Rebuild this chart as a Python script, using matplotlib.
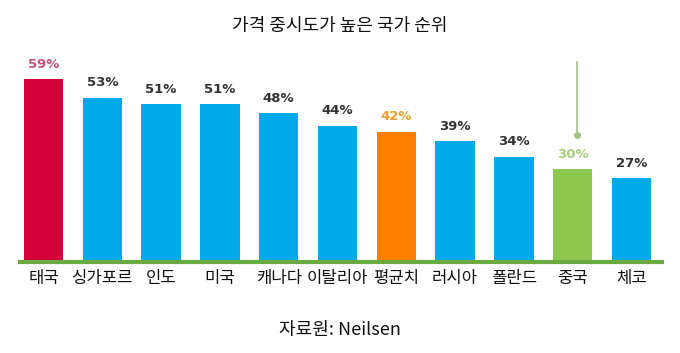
import matplotlib.pyplot as plt

plt.rcParams['font.family'] = ['Noto Sans CJK KR', 'DejaVu Sans']

# 데이터
countries = ["태국", "싱가포르", "인도", "미국", "캐나다", "이탈리아", "평균치", "러시아", "폴란드", "중국", "체코"]
values = [59, 53, 51, 51, 48, 44, 42, 39, 34, 30, 27]
bar_colors = ["#d6003a", "#00a9e8", "#00a9e8", "#00a9e8", "#00a9e8", "#00a9e8",
              "#ff8000", "#00a9e8", "#00a9e8", "#8dc850", "#00a9e8"]
label_colors = ["#c8507a", "#333333", "#333333", "#333333", "#333333", "#333333",
                "#f0a030", "#333333", "#333333", "#a8d080", "#333333"]

# 중국 위 강조선 (데이터 단위)
china_idx = 9
pin_top, pin_bottom = 64.5, 41

fig = plt.figure(figsize=(6.8, 3.53), dpi=100)
ax = fig.add_axes([20 / 680, 1 - 262 / 353, 642 / 680, 222 / 353])

x = list(range(len(countries)))
ax.bar(x, values, width=0.67, color=bar_colors, zorder=2)

for i, v in enumerate(values):
    ax.annotate(f"{v}%", (i, v), xytext=(0, 6), textcoords="offset points",
                ha="center", va="bottom", fontsize=9.5, fontweight="bold",
                color=label_colors[i], family=["DejaVu Sans"])

ax.plot([china_idx + 0.07, china_idx + 0.07], [pin_bottom, pin_top], color="#a8c088", lw=1.2)
ax.plot([china_idx + 0.07], [pin_bottom], "o", color="#a8c088", ms=4)

ax.set_xlim(-0.40, 10.52)
ax.set_ylim(0, 71.6)
ax.set_xticks(x)
ax.set_xticklabels(countries, fontsize=12, color="#111111")
ax.tick_params(axis="x", length=0, pad=6)
ax.set_yticks([])
for s in ["top", "right", "left"]:
    ax.spines[s].set_visible(False)
ax.spines["bottom"].set_color("#6aaa40")
ax.spines["bottom"].set_linewidth(3)
ax.spines["bottom"].set_zorder(3)

fig.text(0.5, 1 - 26 / 353, "가격 중시도가 높은 국가 순위", ha="center", va="center", fontsize=13, color="#111111")
fig.text(0.5, 1 - 330 / 353, "자료원: Neilsen", ha="center", va="center", fontsize=13, color="#111111")

plt.savefig("out.png", dpi=100)
